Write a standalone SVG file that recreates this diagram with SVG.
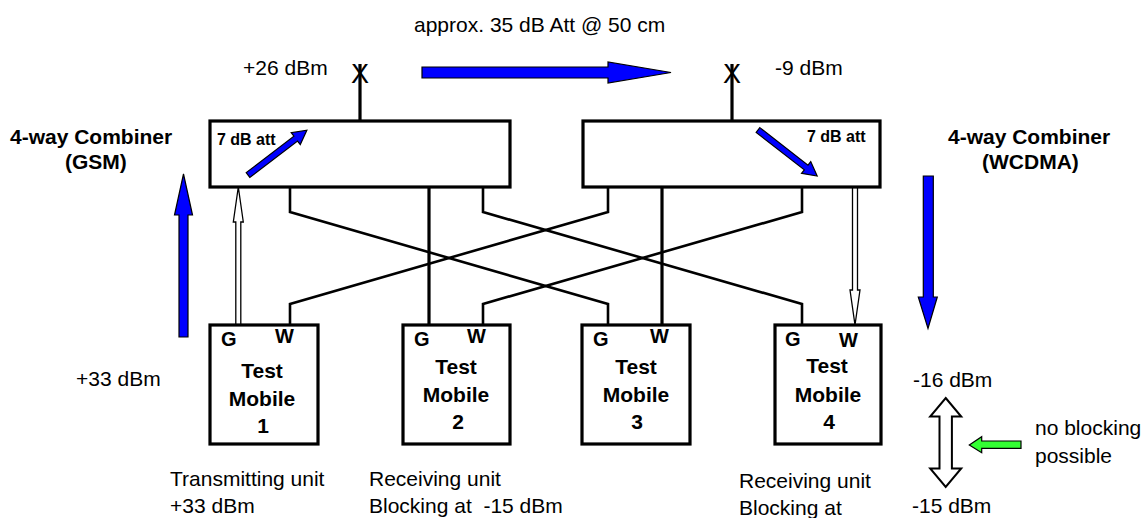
<svg xmlns="http://www.w3.org/2000/svg" width="1143" height="518" viewBox="0 0 1143 518">
<style>
text{font-family:"Liberation Sans",Arial,sans-serif;fill:#000}
.r{font-size:21px}
.b{font-size:21px;font-weight:bold}
.s{font-size:16px;font-weight:bold}
.gw{font-size:20px;font-weight:bold}
.m{text-anchor:middle}
.box{fill:#fff;stroke:#000;stroke-width:3.2}
.ln{fill:none;stroke:#000;stroke-width:2.6;stroke-linejoin:miter}
.vl{fill:none;stroke:#000;stroke-width:3.2}
.blue{fill:#0000ff;stroke:#000;stroke-width:1.2}
.hol{fill:#fff;stroke:#000;stroke-width:1.3}
.x{font-size:27px;text-anchor:middle}
</style>
<rect width="1143" height="518" fill="#fff"/>

<g id="connectors">
  <!-- antennas -->
  <line class="vl" x1="360" y1="121" x2="360" y2="64"/>
  <line class="vl" x1="732" y1="121" x2="732" y2="64"/>
  <!-- GSM combiner to G ports -->
  <polyline class="ln" points="290,187 290,212 608,304 608,325"/>
  <line class="vl" x1="429" y1="187" x2="429" y2="325"/>
  <polyline class="ln" points="483,187 483,212 802,304 802,325"/>
  <!-- WCDMA combiner to W ports -->
  <polyline class="ln" points="290,325 290,304 608,212 608,187"/>
  <line class="vl" x1="662" y1="187" x2="662" y2="325"/>
  <polyline class="ln" points="483,325 483,304 802,212 802,187"/>
  <!-- hollow arrows -->
  <polygon class="hol" points="235.8,325 235.8,222 233.3,222 238.3,187 243.3,222 240.8,222 240.8,325"/>
  <polygon class="hol" points="852.5,187 852.5,290 850,290 855,325 860,290 857.5,290 857.5,187"/>
</g>

<g id="combiner-gsm">
  <rect class="box" x="210" y="121" width="300" height="66"/>
  <text class="s" x="217" y="145">7 dB att</text>
  <polygon class="blue" transform="translate(248,175) rotate(-37.3)" points="0,-3 60,-3 60,-7.5 74,0 60,7.5 60,3 0,3"/>
</g>

<g id="combiner-wcdma">
  <rect class="box" x="583" y="121" width="297" height="66"/>
  <text class="s" x="807" y="142">7 dB att</text>
  <polygon class="blue" transform="translate(758,130) rotate(37.9)" points="0,-3 61,-3 61,-7.5 75,0 61,7.5 61,3 0,3"/>
</g>

<g id="mobile1">
  <rect class="box" x="210" y="325" width="108" height="119"/>
  <text class="gw" x="221" y="346">G</text>
  <text class="gw" x="275" y="343">W</text>
  <text class="b m" x="262" y="378">Test</text>
  <text class="b m" x="262" y="406">Mobile</text>
  <text class="b m" x="263" y="433">1</text>
</g>
<g id="mobile2">
  <rect class="box" x="403" y="325" width="107" height="119"/>
  <text class="gw" x="414" y="346">G</text>
  <text class="gw" x="467" y="343">W</text>
  <text class="b m" x="456" y="374">Test</text>
  <text class="b m" x="456" y="402">Mobile</text>
  <text class="b m" x="458" y="429">2</text>
</g>
<g id="mobile3">
  <rect class="box" x="582" y="325" width="108" height="119"/>
  <text class="gw" x="593" y="346">G</text>
  <text class="gw" x="650" y="343">W</text>
  <text class="b m" x="636" y="374">Test</text>
  <text class="b m" x="636" y="402">Mobile</text>
  <text class="b m" x="637" y="429">3</text>
</g>
<g id="mobile4">
  <rect class="box" x="775" y="325" width="106" height="119"/>
  <text class="gw" x="785" y="346">G</text>
  <text class="gw" x="839" y="347">W</text>
  <text class="b m" x="827" y="373">Test</text>
  <text class="b m" x="828" y="402">Mobile</text>
  <text class="b m" x="829" y="429">4</text>
</g>

<g id="annotations">
  <text class="r" x="414" y="32">approx. 35 dB Att @ 50 cm</text>
  <polygon class="blue" points="422,67 608,67 608,62 671,72.5 608,83 608,78 422,78"/>
  <text class="r" x="243" y="75">+26 dBm</text>
  <text class="x" x="360" y="83">X</text>
  <text class="x" x="732" y="83">X</text>
  <text class="r" x="775" y="75">-9 dBm</text>

  <text class="b" x="10" y="144">4-way Combiner</text>
  <text class="b" x="65" y="169">(GSM)</text>
  <text class="b" x="948" y="144">4-way Combiner</text>
  <text class="b" x="982" y="169">(WCDMA)</text>

  <polygon class="blue" points="179,337 179,215 174.5,215 183.5,174 192.5,215 188,215 188,337"/>
  <polygon class="blue" points="923.3,176 933.3,176 933.3,297 937.3,297 928,328.5 918.3,297 923.3,297"/>

  <text class="r" x="76" y="386">+33 dBm</text>
  <text class="r" x="913" y="387">-16 dBm</text>
  <text class="r" x="912" y="513">-15 dBm</text>
  <polygon points="945.7,398 961.2,416.5 951.9,416.5 951.9,468.5 961.2,468.5 945.7,487 930.2,468.5 939.5,468.5 939.5,416.5 930.2,416.5" fill="#fff" stroke="#000" stroke-width="2"/>
  <polygon points="969.3,445 981.7,436.7 981.7,441 1021,441 1021,448.3 981.7,448.3 981.7,452.7" fill="#33ff33" stroke="#000" stroke-width="1.2"/>
  <text class="r" x="1035" y="435">no blocking</text>
  <text class="r" x="1035" y="463">possible</text>

  <text class="r" x="170" y="486">Transmitting unit</text>
  <text class="r" x="170" y="513">+33 dBm</text>
  <text class="r" x="369" y="486">Receiving unit</text>
  <text class="r" x="369" y="513">Blocking at &#160;-15 dBm</text>
  <text class="r" x="739" y="488">Receiving unit</text>
  <text class="r" x="739" y="515">Blocking at</text>
</g>
</svg>
